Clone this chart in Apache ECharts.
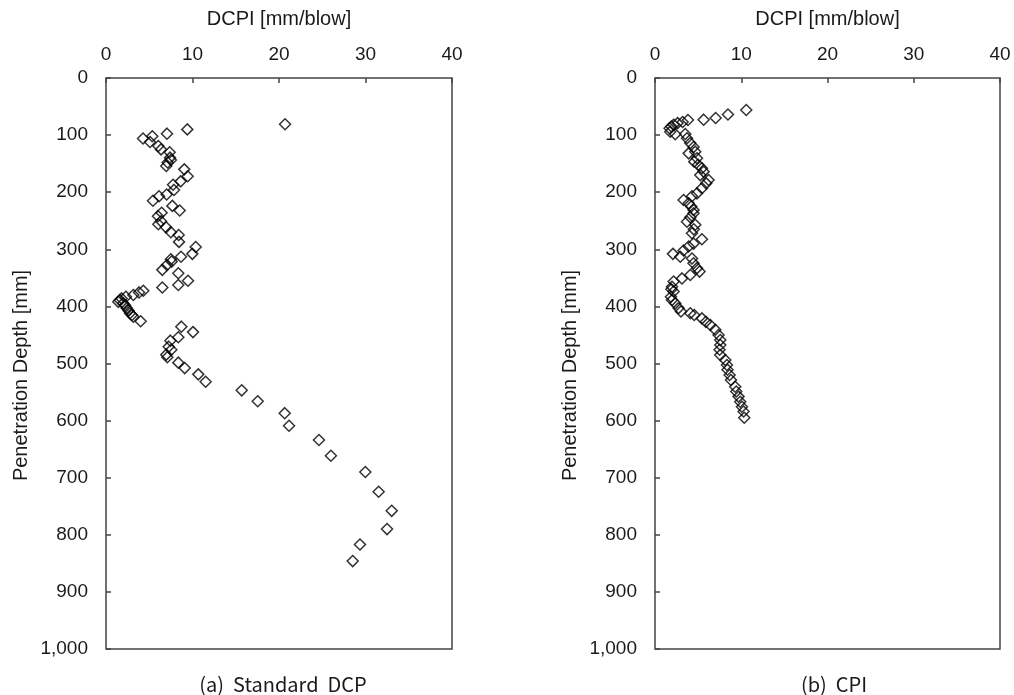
<!DOCTYPE html>
<html><head><meta charset="utf-8">
<script src="https://cdn.jsdelivr.net/npm/echarts@6/dist/echarts.min.js"></script>
<style>html,body{margin:0;padding:0;background:#fff}#c{width:1014px;height:695px}</style>
</head><body><div id="c"></div>
<script>
// Standard DCP: [DCPI mm/blow, depth mm]
const dcpDCPI = [20.7,9.4,7.05,4.28,5.35,5.09,6.05,6.36,7.36,7.4,7.5,7.13,6.97,9.05,9.44,8.63,7.75,7.86,7.01,6.13,5.43,7.67,8.52,6.43,6.01,6.36,6.05,6.94,7.5,8.4,8.44,10.37,9.98,8.67,7.5,7.59,7.05,6.51,8.36,9.48,8.36,6.51,4.31,3.82,3.16,2.3,1.81,1.6,1.42,2.0,2.2,2.39,2.6,2.77,3.0,3.16,4.01,8.71,10.06,8.36,7.44,7.25,7.55,6.97,7.09,8.36,9.1,10.67,11.52,15.69,17.54,20.66,21.16,24.62,26.0,29.98,31.52,33.03,32.49,29.36,28.52];
const dcpDepth = [81,90,97.5,106,102,112,119,125,130,139.5,143.6,148,154,160,172,181,187,196,204,207,215,224,232,236,242,251,256,261.5,270,275,287,296,308,313,317.5,321.5,327.5,336,342,355,362.5,367,372.5,375.5,380,383,386,389,392,394.6,398,403,407,412,415,418,426,435.5,445,454,460,470.5,476,484.5,489,498.5,508,519,532,547,566,587,609,634,661.5,690,724.5,758,790,817,846];
// CPI
const cpiDCPI = [10.58,8.46,7.03,5.64,3.82,3.2,2.62,2.16,1.9,1.69,1.77,2.35,3.51,3.71,4.09,4.47,4.67,3.9,4.87,4.55,5.0,5.44,5.64,5.25,6.21,5.94,5.44,4.87,4.29,3.31,3.9,4.2,4.47,4.47,4.1,3.71,4.67,4.5,4.29,5.44,4.47,3.9,3.31,2.08,2.93,4.29,4.47,4.87,5.17,4.09,3.13,2.16,1.97,1.9,2.16,1.85,1.97,2.35,2.73,3.01,4.09,4.55,5.44,5.9,6.41,6.99,7.37,7.57,7.57,7.49,7.57,8.15,8.34,8.41,8.65,8.81,9.3,9.42,9.69,9.88,10.08,10.27,10.35];
const cpiDepth = [56,64,70,73,73.5,77,79,82,85,88,94,98.6,98,105.6,114,121,129,132,140.6,146.5,152,158,164,170,178.6,184.5,193,202,207,213.6,219.5,225,231,237,244,251.6,257,265,272,282.5,290,295,302,308,313,316,324.5,333,339,345,351,356.5,365.5,370,374,383,389,394.6,403,409,412,415,421,427,432.5,441,450,459,467.6,476,485,494,502.6,511,520,529,540.6,549,558,567,575.6,584,595];
const xTicks = [0,10,20,30,40];
const yTicks = [0,100,200,300,400,500,600,700,800,900,1000];

const pair = (xs, ys) => xs.map((v, i) => [v, ys[i]]);
const chart = echarts.init(document.getElementById('c'));
const font = "'Liberation Sans'";
const txt = '#1a1a1a';
const fs = 19;
function xAxis(gi) {
  return {
    gridIndex: gi, type: 'value', position: 'top',
    min: xTicks[0], max: xTicks[xTicks.length - 1], interval: xTicks[1] - xTicks[0],
    name: 'DCPI [mm/blow]', nameLocation: 'middle', nameGap: 49,
    nameTextStyle: { fontFamily: font, fontSize: 20, color: txt },
    axisLine: { show: false },
    axisTick: { show: true, inside: true, length: 5, lineStyle: { color: '#444', width: 1.5 } },
    axisLabel: { fontFamily: font, fontSize: fs, color: txt, margin: 14 },
    splitLine: { show: false }
  };
}
function yAxis(gi) {
  return {
    gridIndex: gi, type: 'value', inverse: true,
    min: yTicks[0], max: yTicks[yTicks.length - 1], interval: yTicks[1] - yTicks[0],
    name: 'Penetration Depth [mm]', nameLocation: 'middle', nameGap: 75, nameRotate: 90,
    nameTextStyle: { fontFamily: font, fontSize: 20, color: txt, padding: [0, 24, 0, 0] },
    axisLine: { show: false },
    axisTick: { show: true, inside: true, length: 5, lineStyle: { color: '#444', width: 1.5 } },
    axisLabel: { fontFamily: font, fontSize: fs, color: txt, margin: 18,
      formatter: v => v.toLocaleString('en-US') },
    splitLine: { show: false }
  };
}
const sym = 'path://M0,-1L1,0L0,1L-1,0Z';
function series(gi, data) {
  return {
    type: 'scatter', xAxisIndex: gi, yAxisIndex: gi, data,
    symbol: sym, symbolSize: 11,
    itemStyle: { color: 'rgba(255,255,255,0)', borderColor: '#000', borderWidth: 1.5 },
    silent: true, animation: false
  };
}
const subStyle = { fontFamily: "'Noto Sans CJK KR'", fontSize: 20, fontWeight: 'normal', color: txt };
chart.setOption({
  backgroundColor: '#fff',
  animation: false,
  grid: [
    { left: 106, top: 78, width: 346, height: 571, show: true, borderColor: '#444', borderWidth: 1.5, backgroundColor: 'transparent' },
    { left: 655, top: 78, width: 345, height: 571, show: true, borderColor: '#444', borderWidth: 1.5, backgroundColor: 'transparent' }
  ],
  xAxis: [xAxis(0), xAxis(1)],
  yAxis: [yAxis(0), yAxis(1)],
  title: [
    { text: '(a)  Standard  DCP', left: 278, top: 669, textAlign: 'center', textStyle: subStyle },
    { text: '(b)  CPI', left: 829, top: 669, textAlign: 'center', textStyle: subStyle }
  ],
  series: [series(0, pair(dcpDCPI, dcpDepth)), series(1, pair(cpiDCPI, cpiDepth))]
});
</script></body></html>
